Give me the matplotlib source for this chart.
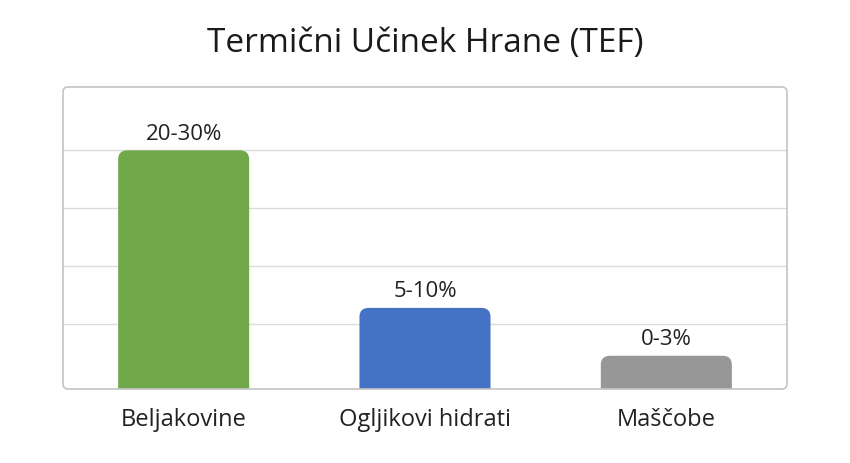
import matplotlib
matplotlib.use("Agg")
import matplotlib.pyplot as plt
from matplotlib.patches import FancyBboxPatch
import numpy as np

categories = ["Beljakovine", "Ogljikovi hidrati", "Maščobe"]
values = [30, 9.6, 3.4]
value_labels = ["20-30%", "5-10%", "0-3%"]
colors = ["#70A84A", "#4472C4", "#979797"]
title = "Termični Učinek Hrane (TEF)"
grid_ticks = [7.5, 15, 22.5, 30]

FONT = ["Open Sans", "DejaVu Sans"]
plt.rcParams["font.family"] = FONT

W, H = 850, 463
fig = plt.figure(figsize=(W / 100, H / 100), dpi=100)
x0, x1, y0, y1 = 63, 787, 87, 389
ax = fig.add_axes([x0 / W, 1 - y1 / H, (x1 - x0) / W, (y1 - y0) / H])
ymin, ymax = -0.9, 38.2
ax.set_xlim(-0.5, 2.5)
ax.set_ylim(ymin, ymax)
ax.set_yticks(grid_ticks)
ax.set_xticks([])
ax.tick_params(left=False, labelleft=False)
ax.grid(axis="y", color="#dcdcdc", linewidth=1)
ax.set_axisbelow(True)
for s in ax.spines.values():
    s.set_visible(False)
ax.patch.set_visible(False)

# rounded axes frame
frame = FancyBboxPatch((x0 / W, 1 - y1 / H), (x1 - x0) / W, (y1 - y0) / H,
                       boxstyle="round,pad=0,rounding_size=0.006",
                       mutation_aspect=W / H,
                       transform=fig.transFigure, facecolor="none",
                       edgecolor="#c4c4c4", linewidth=1.2, zorder=5)
fig.patches.append(frame)

bar_w = 0.543
xs = np.arange(len(categories))
bars = ax.bar(xs, np.array(values) - ymin, bottom=ymin, width=bar_w,
              color=colors, alpha=0)

# pixel scales
xpp = 3.0 / (x1 - x0)
ypp = (ymax - ymin) / (y1 - y0)
r_px = 9
for b, c in zip(bars, colors):
    bx, bw, top = b.get_x(), b.get_width(), b.get_y() + b.get_height()
    ext = 3.0
    p = FancyBboxPatch((bx, ymin - ext), bw, top - (ymin - ext),
                       boxstyle=f"round,pad=0,rounding_size={r_px * xpp}",
                       mutation_aspect=ypp / xpp,
                       facecolor=c, edgecolor="none", zorder=3)
    p.set_clip_path(ax.patch)
    ax.add_patch(p)

for xi, v, lab in zip(xs, values, value_labels):
    ax.annotate(lab, (xi, v), xytext=(0, 7.5), textcoords="offset points",
                ha="center", va="baseline", fontsize=16, color="#222222")

for xi, cat in zip(xs, categories):
    ax.annotate(cat, (xi, ymin), xytext=(0, -26.5), textcoords="offset points",
                ha="center", va="baseline", fontsize=17, color="#222222",
                annotation_clip=False)

fig.text(0.5, 1 - 52 / H, title, ha="center", va="baseline", fontsize=24,
         color="#1a1a1a")

fig.savefig("out.png", dpi=100)
